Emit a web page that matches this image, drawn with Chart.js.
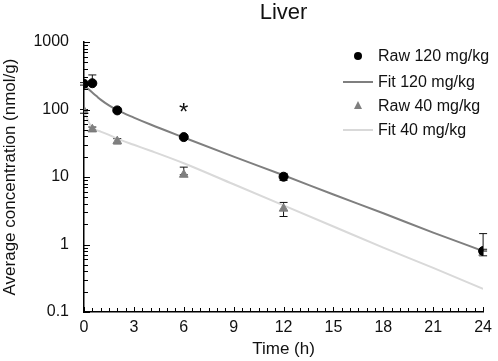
<!DOCTYPE html>
<html>
<head>
<meta charset="utf-8">
<script src="https://cdn.jsdelivr.net/npm/chart.js@4"></script>
<style>
  body { margin: 0; background: #fff; }
  #wrap { position: relative; width: 498px; height: 361px; }
  .leg { position: absolute; font: 16px "Liberation Sans", Arial, sans-serif; color: #111; }
  .leg .txt { position: absolute; left: 378px; white-space: nowrap; line-height: 18px; }
</style>
</head>
<body>
<div id="wrap">
  <canvas id="chart" width="498" height="361"></canvas>
  <div id="legend"></div>
</div>
<script>
// measured times (h)
const times = [0, 0.5, 2, 6, 12, 24];
const raw120 = [240, 245, 97, 39, 10.1, 0.8];
const raw120Hi = [250, 325, 104, 41, 11.3, 1.45];
const raw120Lo = [230, 245, 91, 37, 8.9, 0.8];
const raw40 = [95, 51, 34, 10.8, 3.4, 0.75];
const raw40Hi = [100, 55, 37, 14, 4.2, 0.85];
const raw40Lo = [88, 47, 31, 10.8, 2.6, 0.68];

// fitted curves
const fitTimes = [0, 0.25, 0.5, 0.75, 1, 1.5, 2, 3, 4, 6, 9, 12, 15, 18, 21, 24];
const fit120 = [230, 202, 178, 158, 140, 115, 98, 76, 60, 38.5, 20, 10.6, 5.5, 2.9, 1.5, 0.8];
const fit40 = [95, 68, 53, 49.5, 47, 42, 37, 30, 24.5, 16, 7.8, 3.8, 1.85, 0.9, 0.45, 0.22];

const xTicks = [0, 3, 6, 9, 12, 15, 18, 21, 24];
const yTicks = [0.1, 1, 10, 100, 1000];
const starTime = 6;
const starValue = 105;

const labels = ['Raw 120 mg/kg', 'Fit 120 mg/kg', 'Raw 40 mg/kg', 'Fit 40 mg/kg'];
const FONT = '"Liberation Sans", Arial, sans-serif';

function pts(xs, ys) {
  return xs.map((x, i) => ({ x: x, y: ys[i] }));
}

// error bars, inside ticks and the asterisk
const extras = {
  id: 'extras',
  beforeDatasetsDraw(chart) {
    const ctx = chart.ctx;
    const xs = chart.scales.x, ys = chart.scales.y;
    ctx.save();
    ctx.strokeStyle = '#111';
    ctx.lineWidth = 1;
    const bars = [[raw120Hi, raw120Lo], [raw40Hi, raw40Lo]];
    bars.forEach(([hi, lo]) => {
      times.forEach((t, i) => {
        const px = xs.getPixelForValue(t);
        const top = ys.getPixelForValue(hi[i]);
        const bot = ys.getPixelForValue(lo[i]);
        ctx.beginPath();
        ctx.moveTo(px, top); ctx.lineTo(px, bot);
        ctx.moveTo(px - 4, top); ctx.lineTo(px + 4, top);
        ctx.moveTo(px - 4, bot); ctx.lineTo(px + 4, bot);
        ctx.stroke();
      });
    });
    ctx.restore();
  },
  afterDraw(chart) {
    const ctx = chart.ctx;
    const xs = chart.scales.x, ys = chart.scales.y;
    const a = chart.chartArea;
    ctx.save();
    ctx.strokeStyle = '#000';
    ctx.lineWidth = 1;
    // x ticks every half hour, pointing up
    for (let t = 0; t <= 24; t += 0.5) {
      const px = Math.round(xs.getPixelForValue(t)) + 0.5;
      const len = (t % 3 === 0) ? 5 : 4;
      ctx.beginPath();
      ctx.moveTo(px, a.bottom); ctx.lineTo(px, a.bottom - len);
      ctx.stroke();
    }
    // y log ticks pointing right
    for (let d = 0.1; d < 1000; d *= 10) {
      for (let k = 1; k <= 10; k++) {
        const py = Math.round(ys.getPixelForValue(d * k)) + 0.5;
        const len = (k === 1 || k === 10) ? 6 : 4;
        ctx.beginPath();
        ctx.moveTo(a.left, py); ctx.lineTo(a.left + len, py);
        ctx.stroke();
      }
    }
    ctx.fillStyle = '#111';
    ctx.font = '24px ' + FONT;
    ctx.textAlign = 'center';
    ctx.textBaseline = 'middle';
    ctx.fillText('*', xs.getPixelForValue(starTime), ys.getPixelForValue(starValue) + 5);
    ctx.restore();
  }
};

new Chart(document.getElementById('chart'), {
  type: 'scatter',
  data: {
    datasets: [
      {
        label: labels[0],
        data: pts(times, raw120),
        pointStyle: 'circle',
        pointRadius: 4.5,
        backgroundColor: '#000',
        borderColor: '#000',
        order: 0
      },
      {
        label: labels[1],
        type: 'line',
        data: pts(fitTimes, fit120),
        borderColor: '#7f7f7f',
        borderWidth: 2,
        pointRadius: 0,
        cubicInterpolationMode: 'monotone',
        order: 2
      },
      {
        label: labels[2],
        data: pts(times, raw40),
        pointStyle: 'triangle',
        pointRadius: 5,
        backgroundColor: '#7f7f7f',
        borderColor: '#7f7f7f',
        order: 1
      },
      {
        label: labels[3],
        type: 'line',
        data: pts(fitTimes, fit40),
        borderColor: '#d9d9d9',
        borderWidth: 2,
        pointRadius: 0,
        cubicInterpolationMode: 'monotone',
        order: 3
      }
    ]
  },
  options: {
    responsive: false,
    animation: false,
    layout: { padding: { right: 11 } },
    plugins: {
      legend: { display: false },
      tooltip: { enabled: false },
      title: {
        display: true,
        fullSize: false,
        text: 'Liver',
        color: '#111',
        font: { family: FONT, size: 22, weight: 'normal' },
        padding: { top: 0, bottom: 15.6 }
      }
    },
    scales: {
      x: {
        type: 'linear',
        min: 0,
        max: 24,
        afterBuildTicks: s => { s.ticks = xTicks.map(v => ({ value: v })); },
        afterFit: s => { s.height = 49; },
        grid: { display: false, drawTicks: false },
        border: { display: true, color: '#000', width: 1.5 },
        ticks: { color: '#111', padding: 6, font: { family: FONT, size: 16 } },
        title: {
          display: true,
          text: 'Time (h)',
          color: '#111',
          font: { family: FONT, size: 17 },
          padding: { top: 0, bottom: 1 }
        }
      },
      y: {
        type: 'logarithmic',
        min: 0.1,
        max: 1000,
        afterBuildTicks: s => { s.ticks = yTicks.map(v => ({ value: v })); },
        afterFit: s => { s.width = 84; },
        grid: { display: false, drawTicks: false },
        border: { display: true, color: '#000', width: 1.5 },
        ticks: {
          color: '#111',
          padding: 15,
          font: { family: FONT, size: 16 },
          callback: v => String(v)
        },
        title: {
          display: true,
          text: 'Average concentration (nmol/g)',
          color: '#111',
          font: { family: FONT, size: 17 },
          padding: { top: 0, bottom: 0 }
        }
      }
    }
  },
  plugins: [extras]
});

// legend in the upper right of the plot
const legendRows = [56, 82, 106, 130];
const legend = document.getElementById('legend');
legendRows.forEach((y, i) => {
  const row = document.createElement('div');
  row.className = 'leg';
  row.style.left = '0px';
  row.style.top = (y - 9) + 'px';
  row.style.width = '498px';
  row.style.height = '18px';
  let mark = '';
  if (i === 0) {
    mark = '<div style="position:absolute;left:354px;top:5px;width:8px;height:8px;border-radius:50%;background:#000"></div>';
  } else if (i === 2) {
    mark = '<div style="position:absolute;left:354px;top:4px;width:0;height:0;border-left:4px solid transparent;border-right:4px solid transparent;border-bottom:8px solid #7f7f7f"></div>';
  } else {
    const c = i === 1 ? '#7f7f7f' : '#d9d9d9';
    mark = '<div style="position:absolute;left:343px;top:8px;width:30px;height:2px;background:' + c + '"></div>';
  }
  row.innerHTML = mark + '<span class="txt">' + labels[i] + '</span>';
  legend.appendChild(row);
});
</script>
</body>
</html>
